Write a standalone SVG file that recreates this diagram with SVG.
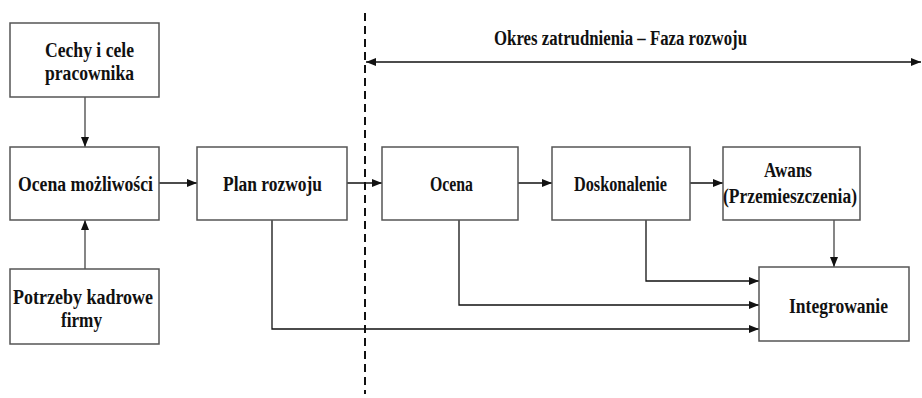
<svg xmlns="http://www.w3.org/2000/svg" width="922" height="398" viewBox="0 0 922 398">
<style>
.box{fill:#fff;stroke:#555;stroke-width:1.5}
.t{font-family:'Liberation Serif','DejaVu Serif','Times New Roman',serif;font-weight:700;font-size:20px;fill:#111;text-anchor:middle}
.c{fill:none;stroke:#111;stroke-width:1.3}
.g{stroke:#444}
</style>
<defs>
<marker id="ah" markerWidth="10" markerHeight="8" refX="10" refY="4" orient="auto" markerUnits="userSpaceOnUse">
<path d="M0,0 L10,4 L0,8 Z" fill="#111"/>
</marker>
<marker id="ahs" markerWidth="10" markerHeight="8" refX="0" refY="4" orient="auto" markerUnits="userSpaceOnUse">
<path d="M10,0 L0,4 L10,8 Z" fill="#111"/>
</marker>
</defs>
<rect width="922" height="398" fill="#fff"/>
<g id="connectors">
<line class="c g" x1="85" y1="97" x2="85" y2="147" marker-end="url(#ah)"/>
<line class="c g" x1="85" y1="269" x2="85" y2="220" marker-end="url(#ah)"/>
<line class="c" x1="159" y1="183" x2="197" y2="183" marker-end="url(#ah)"/>
<line class="c" x1="347" y1="183" x2="382" y2="183" marker-end="url(#ah)"/>
<line class="c" x1="518" y1="183" x2="552" y2="183" marker-end="url(#ah)"/>
<line class="c" x1="690" y1="183" x2="723" y2="183" marker-end="url(#ah)"/>
<line class="c g" x1="834" y1="220" x2="834" y2="267" marker-end="url(#ah)"/>
<polyline class="c" points="646,220 646,281 759,281" marker-end="url(#ah)"/>
<polyline class="c" points="459,220 459,305 759,305" marker-end="url(#ah)"/>
<polyline class="c" points="272,220 272,329 759,329" marker-end="url(#ah)"/>
<line class="c" x1="366" y1="62" x2="921" y2="62" marker-start="url(#ahs)" marker-end="url(#ah)"/>
<line x1="365" y1="13" x2="365" y2="394" stroke="#111" stroke-width="2" stroke-dasharray="8,5"/>
</g>
<text class="t" x="620.5" y="45" textLength="253" lengthAdjust="spacingAndGlyphs">Okres zatrudnienia –  Faza rozwoju</text>
<g id="cechy"><rect class="box" x="10" y="23" width="149" height="74"/>
<text class="t" x="89.5" y="57" textLength="89" lengthAdjust="spacingAndGlyphs">Cechy i cele</text><text class="t" x="89.5" y="80" textLength="89" lengthAdjust="spacingAndGlyphs">pracownika</text></g>
<g id="ocena-mozliwosci"><rect class="box" x="10" y="147" width="149" height="73"/>
<text class="t" x="85.5" y="191" textLength="135" lengthAdjust="spacingAndGlyphs">Ocena możliwości</text></g>
<g id="potrzeby"><rect class="box" x="10" y="269" width="149" height="75"/>
<text class="t" x="83" y="304" textLength="140" lengthAdjust="spacingAndGlyphs">Potrzeby kadrowe</text><text class="t" x="81.5" y="327" textLength="41" lengthAdjust="spacingAndGlyphs">firmy</text></g>
<g id="plan"><rect class="box" x="197" y="147" width="150" height="73"/>
<text class="t" x="272.5" y="191" textLength="99" lengthAdjust="spacingAndGlyphs">Plan rozwoju</text></g>
<g id="ocena"><rect class="box" x="382" y="147" width="136" height="73"/>
<text class="t" x="451.5" y="191" textLength="43" lengthAdjust="spacingAndGlyphs">Ocena</text></g>
<g id="doskonalenie"><rect class="box" x="552" y="147" width="138" height="73"/>
<text class="t" x="620.5" y="191" textLength="93" lengthAdjust="spacingAndGlyphs">Doskonalenie</text></g>
<g id="awans"><rect class="box" x="723" y="147" width="137" height="73"/>
<text class="t" x="788" y="177" textLength="48" lengthAdjust="spacingAndGlyphs">Awans</text><text class="t" x="790" y="203" textLength="134" lengthAdjust="spacingAndGlyphs">(Przemieszczenia)</text></g>
<g id="integrowanie"><rect class="box" x="759" y="267" width="150" height="74"/>
<text class="t" x="838.5" y="313" textLength="99" lengthAdjust="spacingAndGlyphs">Integrowanie</text></g>
</svg>
